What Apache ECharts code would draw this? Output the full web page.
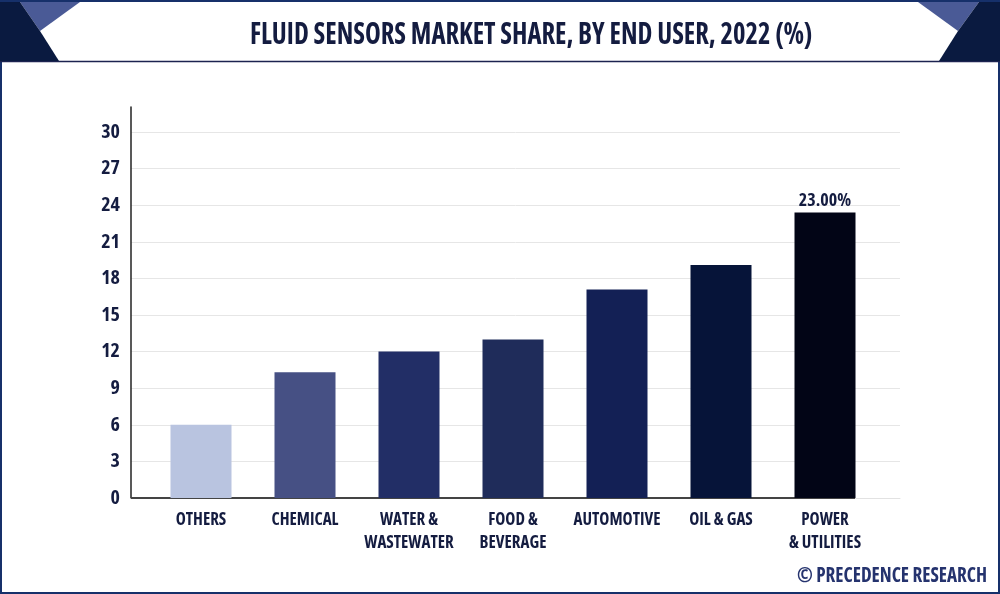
<!DOCTYPE html>
<html>
<head>
<meta charset="utf-8">
<style>
    html, body { margin: 0; padding: 0; background: #fff; }
    #chart { width: 1000px; height: 594px; }
</style>
<script src="https://cdn.jsdelivr.net/npm/echarts@6/dist/echarts.min.js"></script>
</head>
<body>
<div id="chart"></div>
<script>
const titleText = "FLUID SENSORS MARKET SHARE, BY END USER, 2022 (%)";
const credit = "© PRECEDENCE RESEARCH";
const categories = ["OTHERS", "CHEMICAL", "WATER &\nWASTEWATER", "FOOD &\nBEVERAGE", "AUTOMOTIVE", "OIL & GAS", "POWER\n& UTILITIES"];
const shares = [6, 10.3, 12, 13, 17.1, 19.1, 23.4];
const barColors = ["#b9c4e0", "#465084", "#222e66", "#1f2c5a", "#132055", "#061439", "#020516"];
const barLabels = ["", "", "", "", "", "", "23.00%"];

const font = "Open Sans";
const weight = "bold extra-condensed"; // goes straight into the canvas font string
const ink = "#141c40";
const axisMax = 32.05;

const chart = echarts.init(document.getElementById("chart"));

const poly = (points, fill) => ({
    type: "polygon",
    z: 5,
    shape: { points: points },
    style: { fill: fill, stroke: null },
});

chart.setOption({
    animation: false,
    backgroundColor: "#fff",
    grid: [
        { left: 131, width: 769, top: 107, height: 391 },
        { left: 149, width: 728, top: 107, height: 391 },
    ],
    xAxis: [
        {
            gridIndex: 0,
            type: "category",
            data: categories,
            axisLine: { lineStyle: { color: "#e2e2e2", width: 1 } },
            axisTick: { show: false },
            axisLabel: { show: false },
        },
        {
            gridIndex: 1,
            type: "category",
            data: categories,
            axisLine: { show: false },
            axisTick: { show: false },
            axisLabel: {
                interval: 0,
                margin: 11,
                lineHeight: 23,
                fontFamily: font,
                fontWeight: weight,
                fontSize: 17,
                color: ink,
            },
        },
    ],
    yAxis: [
        {
            gridIndex: 0,
            type: "value",
            min: 0,
            max: axisMax,
            interval: 3,
            axisLine: { show: true, lineStyle: { color: "#222", width: 1.5 } },
            axisTick: { show: false },
            axisLabel: {
                showMaxLabel: false,
                margin: 11,
                fontFamily: font,
                fontWeight: weight,
                fontSize: 20,
                color: ink,
            },
            splitLine: { showMaxLine: false, lineStyle: { color: "#e6e6e6", width: 1 } },
        },
        {
            gridIndex: 1,
            type: "value",
            min: 0,
            max: axisMax,
            interval: 3,
            axisLine: { show: false },
            axisTick: { show: false },
            axisLabel: { show: false },
            splitLine: { show: false },
        },
    ],
    series: [
        {
            type: "bar",
            xAxisIndex: 1,
            yAxisIndex: 1,
            barWidth: 61,
            data: shares.map((v, i) => ({
                value: v,
                itemStyle: { color: barColors[i] },
            })),
            label: {
                show: true,
                position: "top",
                distance: 3,
                formatter: (p) => barLabels[p.dataIndex],
                fontFamily: font,
                fontWeight: weight,
                fontSize: 18,
                color: ink,
            },
        },
    ],
    graphic: [
        // page frame and header decoration
        {
            type: "rect",
            z: 4,
            shape: { x: 1, y: 1, width: 998, height: 592 },
            style: { fill: null, stroke: "#16306a", lineWidth: 2 },
        },
        {
            type: "line",
            z: 4,
            shape: { x1: 0, y1: 61.5, x2: 1000, y2: 61.5 },
            style: { stroke: "#1c2350", lineWidth: 1.5 },
        },
        poly([[20, 2], [80, 2], [40, 31]], "#4a5a96"),
        poly([[0, 2], [20, 2], [40, 31], [59, 61], [0, 61]], "#0a1a40"),
        poly([[918, 2], [979, 2], [958, 31]], "#4a5a96"),
        poly([[979, 2], [1000, 2], [1000, 61], [939, 61], [958, 31]], "#0a1a40"),
        // dark part of the baseline
        {
            type: "line",
            z: 1,
            shape: { x1: 131, y1: 498, x2: 855, y2: 498 },
            style: { stroke: "#444", lineWidth: 2 },
        },
        {
            type: "text",
            z: 5,
            x: 250,
            y: 20,
            scaleX: 0.86,
            style: {
                text: titleText,
                fontFamily: font,
                fontWeight: weight,
                fontSize: 31,
                fill: ink,
            },
        },
        {
            type: "text",
            z: 5,
            x: 797,
            y: 566,
            scaleX: 0.91,
            style: {
                text: credit,
                fontFamily: font,
                fontWeight: weight,
                fontSize: 21,
                fill: "#25336e",
            },
        },
    ],
});
</script>
</body>
</html>
